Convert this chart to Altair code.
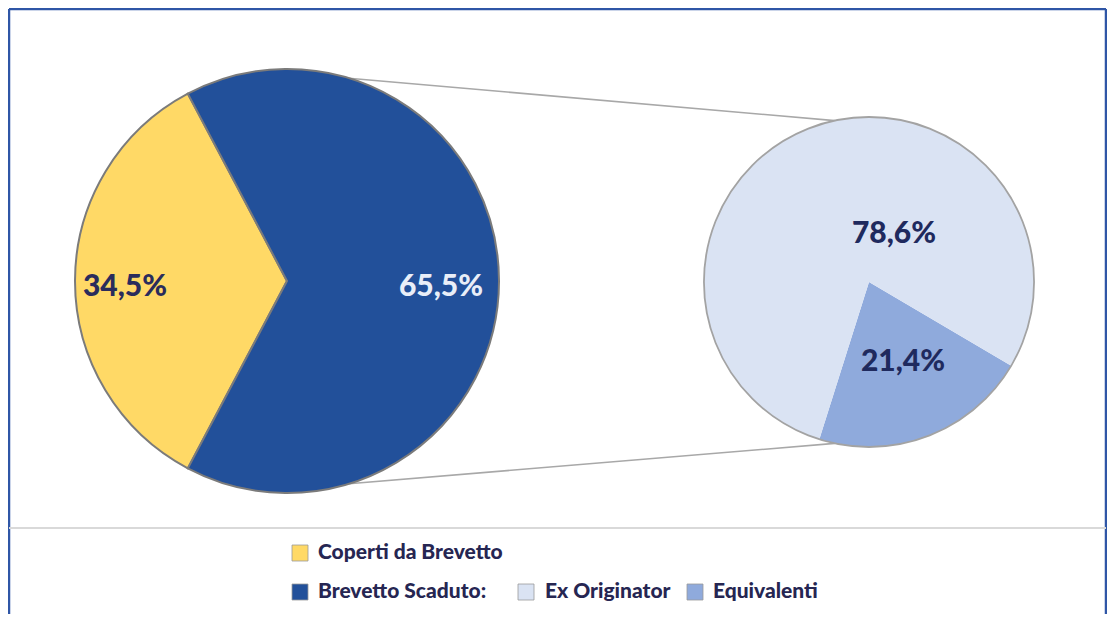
import math
import altair as alt
import pandas as pd

# ---------------- data ----------------
main_cats = ["Coperti da Brevetto", "Brevetto Scaduto"]
main_vals = [34.5, 65.5]
sub_cats = ["Equivalenti", "Ex Originator"]
sub_vals = [21.4, 78.6]
legend_cats = ["Coperti da Brevetto", "Brevetto Scaduto", "Ex Originator", "Equivalenti"]
legend_colors = ["#FFD966", "#22509A", "#DAE3F3", "#8FAADC"]

# ---------------- layout (page pixels -> chart pixels) ----------------
OX, OY = 8, 8
W, H = 1099, 606


def px(v):
    return v - OX


def py(v):
    return v - OY


LCX, LCY, LR = 287, 281, 212   # main pie
RCX, RCY, RR = 869, 282, 165   # secondary pie
TWO_PI = 2 * math.pi


def fmt(v):
    return f"{v:.1f}%".replace(".", ",")


main_df = pd.DataFrame({"cat": main_cats, "val": main_vals, "ord": list(range(len(main_cats)))})
main_df["lbl"] = [fmt(v) for v in main_vals]
sub_df = pd.DataFrame({"cat": sub_cats, "val": sub_vals, "ord": list(range(len(sub_cats)))})
sub_df["lbl"] = [fmt(v) for v in sub_vals]

color_scale = alt.Scale(domain=legend_cats, range=legend_colors)

# start angles so that the first slice is centred on the chosen direction
a_main = math.radians(270 - main_vals[0] * 3.6 / 2)
a_sub = math.radians(159 - sub_vals[0] * 3.6 / 2)

FONT = "Lato"
one = alt.Data(values=[{"k": 1}])

left_pie = alt.Chart(main_df).mark_arc(
    outerRadius=LR, stroke="#7b7b7b", strokeWidth=2
).encode(
    theta=alt.Theta("val:Q", stack=True, scale=alt.Scale(range=[a_main, a_main + TWO_PI])),
    order=alt.Order("ord:Q"),
    color=alt.Color("cat:N", scale=color_scale, legend=None),
    x=alt.value(px(LCX)),
    y=alt.value(py(LCY)),
)

right_pie = alt.Chart(sub_df).mark_arc(outerRadius=RR, strokeWidth=0).encode(
    theta=alt.Theta("val:Q", stack=True, scale=alt.Scale(range=[a_sub, a_sub + TWO_PI])),
    order=alt.Order("ord:Q"),
    color=alt.Color("cat:N", scale=color_scale, legend=None),
    x=alt.value(px(RCX)),
    y=alt.value(py(RCY)),
)

right_outline = alt.Chart(one).mark_arc(
    theta=TWO_PI, outerRadius=RR, filled=False, stroke="#a3a3a3", strokeWidth=1.8
).encode(x=alt.value(px(RCX)), y=alt.value(py(RCY)))


# connector lines
def pt(cx, cy, r, deg):
    a = math.radians(deg)
    return cx + r * math.sin(a), cy - r * math.cos(a)


conn_layers = []
for la, ra in [(17, -12), (163, 192)]:
    x1, y1 = pt(LCX, LCY, LR, la)
    x2, y2 = pt(RCX, RCY, RR, ra)
    conn_layers.append(
        alt.Chart(one).mark_rule(stroke="#a8a8a8", strokeWidth=1.6).encode(
            x=alt.value(px(x1)), y=alt.value(py(y1)),
            x2=alt.value(px(x2)), y2=alt.value(py(y2)),
        )
    )


# slice labels
def label(df, cat, x, y, color):
    return alt.Chart(df).transform_filter(alt.datum.cat == cat).mark_text(
        font=FONT, fontSize=30, fontWeight=900, color=color,
        align="center", baseline="middle",
    ).encode(text="lbl:N", x=alt.value(px(x)), y=alt.value(py(y)))


labels = [
    label(main_df, "Coperti da Brevetto", 125, 287, "#2a2c5c"),
    label(main_df, "Brevetto Scaduto", 441, 287, "#e9eef8"),
    label(sub_df, "Ex Originator", 894, 234, "#1f2a5e"),
    label(sub_df, "Equivalenti", 903, 362, "#1f2a5e"),
]

# frame + separator
frame_col = "#2F56A6"
frame = [
    alt.Chart(one).mark_rule(stroke=frame_col, strokeWidth=2.5).encode(
        x=alt.value(1), x2=alt.value(W - 1), y=alt.value(1), y2=alt.value(1)),
    alt.Chart(one).mark_rule(stroke=frame_col, strokeWidth=2.5).encode(
        x=alt.value(1), x2=alt.value(1), y=alt.value(1), y2=alt.value(H)),
    alt.Chart(one).mark_rule(stroke=frame_col, strokeWidth=2.5).encode(
        x=alt.value(W - 1), x2=alt.value(W - 1), y=alt.value(1), y2=alt.value(H)),
    alt.Chart(one).mark_rule(stroke="#d9d9d9", strokeWidth=2).encode(
        x=alt.value(1), x2=alt.value(W - 1), y=alt.value(py(528)), y2=alt.value(py(528))),
]

# custom legend
ROW1, ROW2 = 553, 592
leg_items = [
    (legend_cats[0], legend_cats[0], 300, 318, ROW1),
    (legend_cats[1], legend_cats[1] + ":", 300, 318, ROW2),
    (legend_cats[2], legend_cats[2], 526, 545, ROW2),
    (legend_cats[3], legend_cats[3], 695, 713, ROW2),
]
leg_df = pd.DataFrame({"cat": legend_cats})
legend_layers = []
for cat, txt, sx, tx, ry in leg_items:
    legend_layers.append(
        alt.Chart(leg_df).transform_filter(alt.datum.cat == cat).mark_square(
            size=256, opacity=1, stroke="#9a9a9a", strokeWidth=0.8
        ).encode(
            color=alt.Color("cat:N", scale=color_scale, legend=None),
            x=alt.value(px(sx)), y=alt.value(py(ry)),
        )
    )
    legend_layers.append(
        alt.Chart(leg_df).transform_filter(alt.datum.cat == cat).transform_calculate(
            t=f"datum.cat + '{txt[len(cat):]}'"
        ).mark_text(
            font=FONT, fontSize=21, fontWeight=900, color="#262652",
            align="left", baseline="middle",
        ).encode(text="t:N", x=alt.value(px(tx)), y=alt.value(py(ry)))
    )

chart = alt.layer(
    *frame, *conn_layers, left_pie, right_pie, right_outline, *labels, *legend_layers
).resolve_scale(theta="independent").properties(
    width=W, height=H, padding=0,
    autosize=alt.AutoSizeParams(type="none"),
    background="white",
).configure_view(strokeWidth=0)

chart.save("out.html", embed_options={"renderer": "svg", "actions": False})
